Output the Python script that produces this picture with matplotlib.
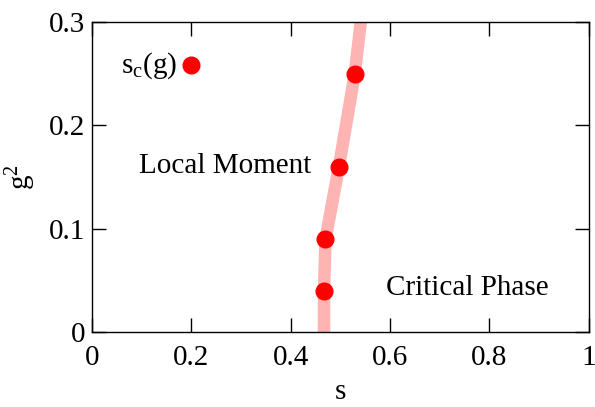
import matplotlib
matplotlib.use("Agg")
import matplotlib.pyplot as plt

plt.rcParams['font.family'] = ['Liberation Serif', 'DejaVu Serif']
plt.rcParams['mathtext.fontset'] = 'custom'
plt.rcParams['mathtext.rm'] = 'Liberation Serif'
plt.rcParams['mathtext.it'] = 'Liberation Serif'

# points critiques s_c(g)
s_c = [0.467, 0.47, 0.497, 0.529]
g2 = [0.04, 0.09, 0.16, 0.25]

# ligne de phase (guide)
line_s = [0.467, 0.467, 0.47, 0.497, 0.529, 0.541]
line_g2 = [0.0, 0.04, 0.09, 0.16, 0.25, 0.30]

# marqueur de la legende
leg_s = [0.2]
leg_g2 = [0.258]

fig = plt.figure(figsize=(5.95, 4.07), dpi=100)
ax = fig.add_axes([0.1546, 0.184, 0.835, 0.762])

ax.plot(line_s, line_g2, color='#ffb4b4', lw=9, solid_capstyle='butt', zorder=1)
ax.plot(s_c, g2, 'o', color='#ff0000', ms=12, zorder=2)
ax.plot(leg_s, leg_g2, 'o', color='#ff0000', ms=12, zorder=2, clip_on=False)

ax.text(0.172, 0.258, r's$_\mathrm{c}$(g)', fontsize=21, ha='right', va='center')
ax.text(0.268, 0.161, 'Local Moment', fontsize=21, ha='center', va='center')
ax.text(0.755, 0.043, 'Critical Phase', fontsize=21, ha='center', va='center')

ax.set_xlim(0, 1)
ax.set_ylim(0, 0.3)
ax.set_xticks([0, 0.2, 0.4, 0.6, 0.8, 1])
ax.set_xticklabels(['0', '0.2', '0.4', '0.6', '0.8', '1'])
ax.set_yticks([0, 0.1, 0.2, 0.3])
ax.set_yticklabels(['0', '0.1', '0.2', '0.3'])
ax.tick_params(direction='in', length=10, width=1, labelsize=21,
               top=True, right=True, pad=5)
ax.tick_params(axis='x', pad=9)
ax.set_xlabel('s', fontsize=21, labelpad=6)
ax.set_ylabel(r'g$^2$', fontsize=21, labelpad=8)
for sp in ax.spines.values():
    sp.set_linewidth(1)

fig.savefig('out.png', dpi=100)
